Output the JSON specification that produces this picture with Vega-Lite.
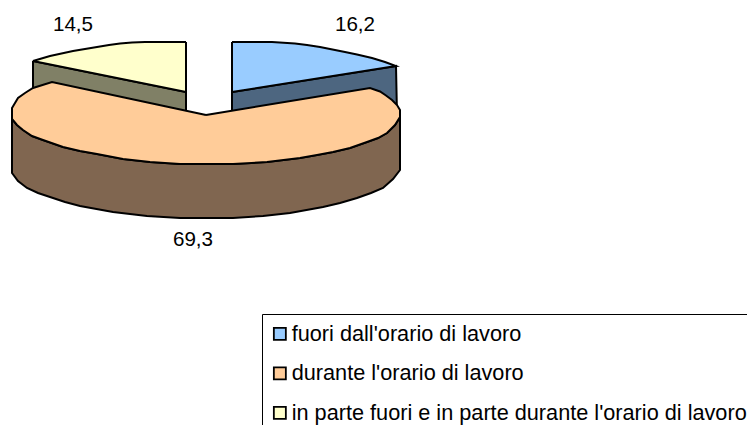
{"$schema":"https://vega.github.io/schema/vega-lite/v6.json","width":747,"height":425,"padding":0,"autosize":"none","background":"white","datasets":{"shapes":[
{"s":"in parte fuori e in parte durante l'orario di lavoro","p":"side","i":1,"x":-174,"y":54},{"s":"in parte fuori e in parte durante l'orario di lavoro","p":"side","i":2,"x":-21,"y":23},{"s":"in parte fuori e in parte durante l'orario di lavoro","p":"side","i":3,"x":-21,"y":-10},{"s":"in parte fuori e in parte durante l'orario di lavoro","p":"side","i":4,"x":-174,"y":15},{"s":"in parte fuori e in parte durante l'orario di lavoro","p":"side","i":5,"x":-174,"y":54},
{"s":"fuori dall'orario di lavoro","p":"side","i":1,"x":25,"y":23},{"s":"fuori dall'orario di lavoro","p":"side","i":2,"x":189,"y":49},{"s":"fuori dall'orario di lavoro","p":"side","i":3,"x":190,"y":0},{"s":"fuori dall'orario di lavoro","p":"side","i":4,"x":25,"y":-10},{"s":"fuori dall'orario di lavoro","p":"side","i":5,"x":25,"y":23},
{"s":"in parte fuori e in parte durante l'orario di lavoro","p":"top","i":1,"x":-21,"y":73},{"s":"in parte fuori e in parte durante l'orario di lavoro","p":"top","i":2,"x":-62,"y":73},{"s":"in parte fuori e in parte durante l'orario di lavoro","p":"top","i":2.5,"x":-75,"y":72.5},{"s":"in parte fuori e in parte durante l'orario di lavoro","p":"top","i":3,"x":-87,"y":71.5},{"s":"in parte fuori e in parte durante l'orario di lavoro","p":"top","i":3.5,"x":-98,"y":70},{"s":"in parte fuori e in parte durante l'orario di lavoro","p":"top","i":4,"x":-110,"y":68},{"s":"in parte fuori e in parte durante l'orario di lavoro","p":"top","i":5,"x":-134,"y":64},{"s":"in parte fuori e in parte durante l'orario di lavoro","p":"top","i":6,"x":-157,"y":59},{"s":"in parte fuori e in parte durante l'orario di lavoro","p":"top","i":7,"x":-174,"y":54},{"s":"in parte fuori e in parte durante l'orario di lavoro","p":"top","i":8,"x":-21,"y":23},{"s":"in parte fuori e in parte durante l'orario di lavoro","p":"top","i":9,"x":-21,"y":73},
{"s":"fuori dall'orario di lavoro","p":"top","i":1,"x":25,"y":73},{"s":"fuori dall'orario di lavoro","p":"top","i":2,"x":65,"y":73},{"s":"fuori dall'orario di lavoro","p":"top","i":3,"x":88,"y":71.5},{"s":"fuori dall'orario di lavoro","p":"top","i":3.5,"x":100,"y":70},{"s":"fuori dall'orario di lavoro","p":"top","i":4,"x":113,"y":68},{"s":"fuori dall'orario di lavoro","p":"top","i":5,"x":138,"y":63},{"s":"fuori dall'orario di lavoro","p":"top","i":5.5,"x":150,"y":60.5},{"s":"fuori dall'orario di lavoro","p":"top","i":6,"x":165,"y":57},{"s":"fuori dall'orario di lavoro","p":"top","i":6.5,"x":178,"y":53},{"s":"fuori dall'orario di lavoro","p":"top","i":7,"x":189,"y":49},{"s":"fuori dall'orario di lavoro","p":"top","i":8,"x":25,"y":23},{"s":"fuori dall'orario di lavoro","p":"top","i":9,"x":25,"y":73},
{"s":"durante l'orario di lavoro","p":"side","i":1,"x":193,"y":-2},{"s":"durante l'orario di lavoro","p":"side","i":1.5,"x":188,"y":-10},{"s":"durante l'orario di lavoro","p":"side","i":2,"x":180,"y":-18},{"s":"durante l'orario di lavoro","p":"side","i":2.5,"x":171,"y":-23},{"s":"durante l'orario di lavoro","p":"side","i":3,"x":160,"y":-27},{"s":"durante l'orario di lavoro","p":"side","i":3.5,"x":143,"y":-33},{"s":"durante l'orario di lavoro","p":"side","i":4,"x":126,"y":-37},{"s":"durante l'orario di lavoro","p":"side","i":4.5,"x":110,"y":-40},{"s":"durante l'orario di lavoro","p":"side","i":5,"x":93,"y":-43},{"s":"durante l'orario di lavoro","p":"side","i":6,"x":60,"y":-47},{"s":"durante l'orario di lavoro","p":"side","i":7,"x":26,"y":-49},{"s":"durante l'orario di lavoro","p":"side","i":8,"x":-7,"y":-49},{"s":"durante l'orario di lavoro","p":"side","i":9,"x":-27,"y":-49},{"s":"durante l'orario di lavoro","p":"side","i":10,"x":-57,"y":-47},{"s":"durante l'orario di lavoro","p":"side","i":11,"x":-84,"y":-44},{"s":"durante l'orario di lavoro","p":"side","i":12,"x":-110,"y":-39},{"s":"durante l'orario di lavoro","p":"side","i":12.5,"x":-127,"y":-36},{"s":"durante l'orario di lavoro","p":"side","i":13,"x":-144,"y":-32},{"s":"durante l'orario di lavoro","p":"side","i":14,"x":-164,"y":-25},{"s":"durante l'orario di lavoro","p":"side","i":14.5,"x":-175,"y":-21},{"s":"durante l'orario di lavoro","p":"side","i":15,"x":-184,"y":-15},{"s":"durante l'orario di lavoro","p":"side","i":15.5,"x":-190,"y":-10},{"s":"durante l'orario di lavoro","p":"side","i":16,"x":-195,"y":-4},{"s":"durante l'orario di lavoro","p":"side","i":17,"x":-195,"y":-58},{"s":"durante l'orario di lavoro","p":"side","i":17.5,"x":-189,"y":-66},{"s":"durante l'orario di lavoro","p":"side","i":18,"x":-180,"y":-73},{"s":"durante l'orario di lavoro","p":"side","i":18.5,"x":-169,"y":-78},{"s":"durante l'orario di lavoro","p":"side","i":19,"x":-157,"y":-82},{"s":"durante l'orario di lavoro","p":"side","i":19.5,"x":-142,"y":-87},{"s":"durante l'orario di lavoro","p":"side","i":20,"x":-127,"y":-91},{"s":"durante l'orario di lavoro","p":"side","i":21,"x":-94,"y":-97},{"s":"durante l'orario di lavoro","p":"side","i":22,"x":-60,"y":-101},{"s":"durante l'orario di lavoro","p":"side","i":23,"x":-27,"y":-103},{"s":"durante l'orario di lavoro","p":"side","i":24,"x":-7,"y":-103},{"s":"durante l'orario di lavoro","p":"side","i":25,"x":26,"y":-103},{"s":"durante l'orario di lavoro","p":"side","i":26,"x":56,"y":-101},{"s":"durante l'orario di lavoro","p":"side","i":27,"x":83,"y":-98},{"s":"durante l'orario di lavoro","p":"side","i":28,"x":116,"y":-92},{"s":"durante l'orario di lavoro","p":"side","i":28.5,"x":133,"y":-88},{"s":"durante l'orario di lavoro","p":"side","i":29,"x":150,"y":-83},{"s":"durante l'orario di lavoro","p":"side","i":29.5,"x":164,"y":-78},{"s":"durante l'orario di lavoro","p":"side","i":30,"x":176,"y":-73},{"s":"durante l'orario di lavoro","p":"side","i":31,"x":186,"y":-64},{"s":"durante l'orario di lavoro","p":"side","i":32,"x":193,"y":-55},{"s":"durante l'orario di lavoro","p":"side","i":33,"x":193,"y":-2},
{"s":"durante l'orario di lavoro","p":"top","i":1,"x":-1,"y":0},{"s":"durante l'orario di lavoro","p":"top","i":2,"x":163,"y":27},{"s":"durante l'orario di lavoro","p":"top","i":3,"x":173,"y":23.5},{"s":"durante l'orario di lavoro","p":"top","i":3.5,"x":179,"y":19.5},{"s":"durante l'orario di lavoro","p":"top","i":4,"x":185,"y":15},{"s":"durante l'orario di lavoro","p":"top","i":4.5,"x":190,"y":10},{"s":"durante l'orario di lavoro","p":"top","i":5,"x":193,"y":5},{"s":"durante l'orario di lavoro","p":"top","i":6,"x":193,"y":-2},{"s":"durante l'orario di lavoro","p":"top","i":6.5,"x":188,"y":-10},{"s":"durante l'orario di lavoro","p":"top","i":7,"x":180,"y":-18},{"s":"durante l'orario di lavoro","p":"top","i":7.5,"x":171,"y":-23},{"s":"durante l'orario di lavoro","p":"top","i":8,"x":160,"y":-27},{"s":"durante l'orario di lavoro","p":"top","i":8.5,"x":143,"y":-33},{"s":"durante l'orario di lavoro","p":"top","i":9,"x":126,"y":-37},{"s":"durante l'orario di lavoro","p":"top","i":9.5,"x":110,"y":-40},{"s":"durante l'orario di lavoro","p":"top","i":10,"x":93,"y":-43},{"s":"durante l'orario di lavoro","p":"top","i":11,"x":60,"y":-47},{"s":"durante l'orario di lavoro","p":"top","i":12,"x":26,"y":-49},{"s":"durante l'orario di lavoro","p":"top","i":13,"x":-7,"y":-49},{"s":"durante l'orario di lavoro","p":"top","i":14,"x":-27,"y":-49},{"s":"durante l'orario di lavoro","p":"top","i":15,"x":-57,"y":-47},{"s":"durante l'orario di lavoro","p":"top","i":16,"x":-84,"y":-44},{"s":"durante l'orario di lavoro","p":"top","i":17,"x":-110,"y":-39},{"s":"durante l'orario di lavoro","p":"top","i":17.5,"x":-127,"y":-36},{"s":"durante l'orario di lavoro","p":"top","i":18,"x":-144,"y":-32},{"s":"durante l'orario di lavoro","p":"top","i":19,"x":-164,"y":-25},{"s":"durante l'orario di lavoro","p":"top","i":19.5,"x":-175,"y":-21},{"s":"durante l'orario di lavoro","p":"top","i":20,"x":-184,"y":-15},{"s":"durante l'orario di lavoro","p":"top","i":20.5,"x":-190,"y":-10},{"s":"durante l'orario di lavoro","p":"top","i":21,"x":-195,"y":-4},{"s":"durante l'orario di lavoro","p":"top","i":22,"x":-195,"y":7},{"s":"durante l'orario di lavoro","p":"top","i":22.5,"x":-192,"y":12},{"s":"durante l'orario di lavoro","p":"top","i":23,"x":-189,"y":17},{"s":"durante l'orario di lavoro","p":"top","i":23.5,"x":-182,"y":22},{"s":"durante l'orario di lavoro","p":"top","i":24,"x":-174,"y":27},{"s":"durante l'orario di lavoro","p":"top","i":25,"x":-155,"y":33},{"s":"durante l'orario di lavoro","p":"top","i":26,"x":-1,"y":0}
],"labels":[{"label":"16,2","x":148,"y":90},{"label":"14,5","x":-134,"y":90},{"label":"69,3","x":-14,"y":-125}]},
"layer":[
{"data":{"name":"shapes"},"transform":[{"filter":"datum.p==='side' && datum.s!==\"durante l'orario di lavoro\""}],"mark":{"type":"line","stroke":"black","strokeWidth":2,"strokeJoin":"miter"},"encoding":{"x":{"field":"x","type":"quantitative","scale":{"domain":[-207,540]},"axis":null},"y":{"field":"y","type":"quantitative","scale":{"domain":[-310,115]},"axis":null},"order":{"field":"i"},"fill":{"field":"s","type":"nominal","scale":{"domain":["fuori dall'orario di lavoro","in parte fuori e in parte durante l'orario di lavoro"],"range":["#4D6680","#808066"]},"legend":null}}},
{"data":{"name":"shapes"},"transform":[{"filter":"datum.p==='top' && datum.s!==\"durante l'orario di lavoro\""}],"mark":{"type":"line","stroke":"black","strokeWidth":2,"strokeJoin":"miter"},"encoding":{"x":{"field":"x","type":"quantitative","scale":{"domain":[-207,540]},"axis":null},"y":{"field":"y","type":"quantitative","scale":{"domain":[-310,115]},"axis":null},"order":{"field":"i"},"fill":{"field":"s","type":"nominal","sort":null,"scale":{"domain":["fuori dall'orario di lavoro","durante l'orario di lavoro","in parte fuori e in parte durante l'orario di lavoro"],"range":["#99CCFF","#FFCC99","#FFFFCC"]},"legend":{"title":null,"orient":"none","legendX":262,"legendY":314,"direction":"vertical","symbolType":"square","symbolSize":144,"symbolStrokeColor":"black","symbolStrokeWidth":1.8,"symbolOpacity":1,"symbolOffset":-2,"labelFont":"Liberation Sans","labelFontSize":21.7,"labelColor":"black","labelLimit":600,"labelOffset":1,"rowPadding":16.5,"padding":9,"strokeColor":"black","fillColor":"white"}}}},
{"data":{"name":"shapes"},"transform":[{"filter":"datum.p==='side' && datum.s===\"durante l'orario di lavoro\""}],"mark":{"type":"line","fill":"#806650","stroke":"black","strokeWidth":2},"encoding":{"x":{"field":"x","type":"quantitative","scale":{"domain":[-207,540]},"axis":null},"y":{"field":"y","type":"quantitative","scale":{"domain":[-310,115]},"axis":null},"order":{"field":"i"}}},
{"data":{"name":"shapes"},"transform":[{"filter":"datum.p==='top' && datum.s===\"durante l'orario di lavoro\""}],"mark":{"type":"line","fill":"#FFCC99","stroke":"black","strokeWidth":2},"encoding":{"x":{"field":"x","type":"quantitative","scale":{"domain":[-207,540]},"axis":null},"y":{"field":"y","type":"quantitative","scale":{"domain":[-310,115]},"axis":null},"order":{"field":"i"}}},
{"data":{"name":"labels"},"mark":{"type":"text","font":"Liberation Sans","fontSize":20.6,"color":"black"},"encoding":{"x":{"field":"x","type":"quantitative","scale":{"domain":[-207,540]},"axis":null},"y":{"field":"y","type":"quantitative","scale":{"domain":[-310,115]},"axis":null},"text":{"field":"label"}}}
],"resolve":{"scale":{"fill":"independent"}},"config":{"view":{"stroke":null}}}
